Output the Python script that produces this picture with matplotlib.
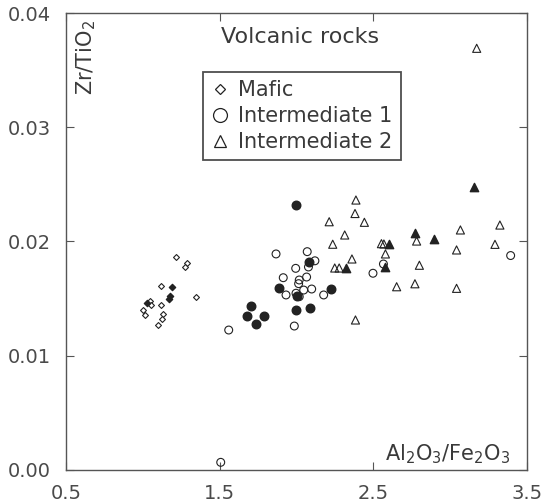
import matplotlib
matplotlib.use("Agg")
import matplotlib.pyplot as plt
from matplotlib.lines import Line2D

# Mafic (open and filled diamonds)
mafic_x = [1.216, 1.285, 1.276, 1.118, 1.047, 1.053, 1.003, 1.014, 1.118, 1.134, 1.123, 1.099, 1.343]
mafic_y = [0.01867, 0.01814, 0.01781, 0.01610, 0.01479, 0.01440, 0.01400, 0.01357, 0.01442, 0.01361,
           0.01324, 0.01267, 0.01512]
mafic_solid_x = [1.190, 1.180, 1.172, 1.030]
mafic_solid_y = [0.01602, 0.01527, 0.01497, 0.01464]

# Intermediate 1 (open and filled circles)
int1_x = [1.867, 2.070, 2.120, 2.078, 1.995, 1.914, 2.066, 2.018, 2.014, 1.932, 1.997, 2.018, 2.047,
          2.099, 2.177, 1.559, 1.986, 2.566, 2.498, 3.394, 1.507]
int1_y = [0.01891, 0.01911, 0.01831, 0.01777, 0.01765, 0.01683, 0.01689, 0.01663, 0.01631, 0.01532,
          0.01547, 0.01517, 0.01575, 0.01584, 0.01532, 0.01225, 0.01260, 0.01803, 0.01722, 0.01877,
          0.00067]
int1_solid_x = [1.997, 2.081, 1.888, 2.006, 2.223, 1.702, 1.680, 1.788, 1.736, 1.995, 2.085]
int1_solid_y = [0.02322, 0.01823, 0.01596, 0.01520, 0.01582, 0.01435, 0.01348, 0.01348, 0.01275,
                0.01396, 0.01421]

# Intermediate 2 (open and filled triangles)
int2_x = [3.173, 2.387, 2.381, 2.213, 2.442, 2.314, 2.236, 2.553, 2.569, 2.579, 2.361, 2.249, 2.278,
          2.384, 2.652, 2.782, 3.067, 3.324, 3.042, 3.292, 2.800, 2.771, 3.042]
int2_y = [0.03691, 0.02363, 0.02245, 0.02173, 0.02168, 0.02057, 0.01976, 0.01981, 0.01978, 0.01891,
          0.01847, 0.01768, 0.01768, 0.01313, 0.01604, 0.02004, 0.02101, 0.02144, 0.01926, 0.01975,
          0.01792, 0.01630, 0.01590]
int2_solid_x = [3.155, 2.320, 2.604, 2.576, 2.773, 2.897]
int2_solid_y = [0.02474, 0.01765, 0.01974, 0.01774, 0.02072, 0.02025]

x_ticks = [0.5, 1.5, 2.5, 3.5]
y_ticks = [0.00, 0.01, 0.02, 0.03, 0.04]
legend_labels = ["Mafic", "Intermediate 1", "Intermediate 2"]

ink = "#222222"
text_col = "#3a3a3a"

plt.rcParams['font.family'] = ['DejaVu Sans']
plt.rcParams['mathtext.default'] = 'regular'

fig = plt.figure(figsize=(5.41, 5.04), dpi=100)
ax = fig.add_axes([0.122, 0.0675, 0.852, 0.9067])

# open symbols
ax.scatter(mafic_x, mafic_y, marker='D', s=9, facecolors='white', edgecolors=ink, linewidths=0.8, zorder=3)
ax.scatter(int1_x, int1_y, marker='o', s=32, facecolors='none', edgecolors=ink, linewidths=0.8, zorder=3)
ax.scatter(int2_x, int2_y, marker='^', s=34, facecolors='none', edgecolors=ink, linewidths=0.8, zorder=3)
# filled symbols
ax.scatter(mafic_solid_x, mafic_solid_y, marker='D', s=10, color=ink, zorder=4)
ax.scatter(int1_solid_x, int1_solid_y, marker='o', s=38, color=ink, zorder=4)
ax.scatter(int2_solid_x, int2_solid_y, marker='^', s=36, color=ink, zorder=4)

ax.set_xlim(0.5, 3.5)
ax.set_ylim(0.0, 0.04)
ax.set_xticks(x_ticks)
ax.set_xticklabels([f"{t:.1f}" for t in x_ticks])
ax.set_yticks(y_ticks)
ax.set_yticklabels([f"{t:.2f}" for t in y_ticks])
ax.tick_params(direction='in', length=6, width=0.8, colors='#555555', labelcolor='#4a4a4a',
               labelsize=14, top=True, right=True)
ax.tick_params(axis='x', pad=10)
ax.tick_params(axis='y', pad=11)
for s in ax.spines.values():
    s.set_color('#555555')
    s.set_linewidth(1.0)

# axis titles sit inside the frame
ax.text(0.043, 0.985, r'Zr/TiO$_2$', rotation=90, ha='center', va='top',
        fontsize=15, color=text_col, transform=ax.transAxes)
ax.text(0.963, 0.008, r'Al$_2$O$_3$/Fe$_2$O$_3$', ha='right', va='bottom',
        fontsize=15, color=text_col, transform=ax.transAxes)
ax.text(0.508, 0.947, "Volcanic rocks", ha='center', va='center',
        fontsize=16, color=text_col, transform=ax.transAxes)

handles = [
    Line2D([], [], linestyle='none', marker='D', ms=5, mfc='white', mec=ink, mew=0.9),
    Line2D([], [], linestyle='none', marker='o', ms=10, mfc='white', mec=ink, mew=0.9),
    Line2D([], [], linestyle='none', marker='^', ms=9, mfc='white', mec=ink, mew=0.9),
]
leg = ax.legend(handles, legend_labels, loc='upper left', bbox_to_anchor=(0.297, 0.871),
                borderaxespad=0, fancybox=False, frameon=True, fontsize=15,
                handlelength=0.8, handletextpad=0.5, labelspacing=0.28, borderpad=0.4,
                edgecolor='#222222')
leg.get_frame().set_linewidth(1.3)
for t in leg.get_texts():
    t.set_color(text_col)

fig.savefig("out.png", dpi=100)
